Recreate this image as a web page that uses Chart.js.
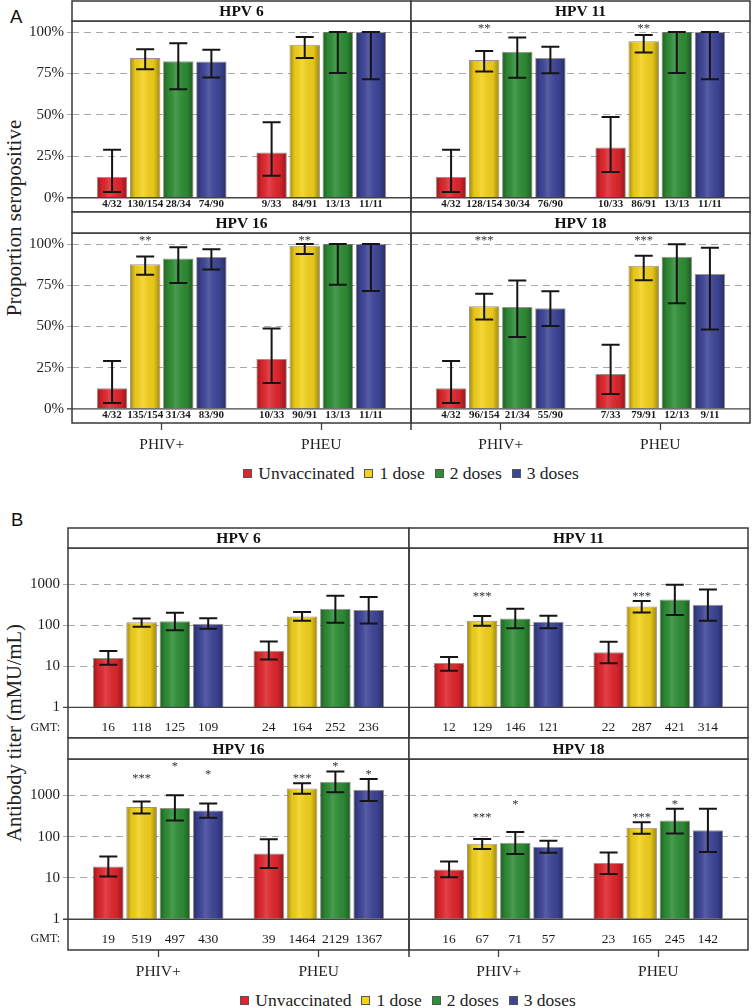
<!DOCTYPE html>
<html>
<head>
<meta charset="utf-8">
<script src="https://cdn.jsdelivr.net/npm/chart.js@4.4.1/dist/chart.umd.min.js"></script>
<style>
  body { margin: 0; background: #fff; }
  #fig { position: relative; width: 752px; height: 1008px; overflow: hidden; font-family: "Liberation Serif", serif; color: #222; }
  #fig canvas { position: absolute; }
  .tag { position: absolute; font: 18.5px/1 "Liberation Sans", Arial, sans-serif; color: #111; }
  .ytitle { position: absolute; width: 300px; height: 24px; line-height: 24px; text-align: center; font-size: 21px; transform: rotate(-90deg); }
  .legend { position: absolute; width: 500px; height: 20px; display: flex; justify-content: center; align-items: center; font-size: 17.5px; }
  .legend .item { display: inline-flex; align-items: center; margin: 0 5px; }
  .legend .sq { display: inline-block; width: 7px; height: 7px; border: 1px solid #555; margin-right: 6px; }
</style>
</head>
<body>
<div id="fig">
  <div class="tag" style="left:10px;top:8px">A</div>
  <div class="tag" style="left:11px;top:511px">B</div>
  <div class="ytitle" style="left:-136px;top:206px">Proportion seropositive</div>
  <div class="ytitle" style="left:-136px;top:721px;font-size:20.5px">Antibody titer (mMU/mL)</div>
  <div class="legend" id="legA" style="left:161px;top:463px"></div>
  <div class="legend" id="legB" style="left:158px;top:990px"></div>
</div>
<script>
const groups = ['PHIV+', 'PHEU'];
const doses = ['Unvaccinated', '1 dose', '2 doses', '3 doses'];
const doseColors = ['#e0262d', '#f4d21c', '#2e8e35', '#3e4598'];

// A: percent seropositive, one row per dose, values for [PHIV+, PHEU]
const a6Pct = [[12.5, 27.3], [84.4, 92.3], [82.4, 100], [82.2, 100]];
const a6Lo = [[3.5, 13.3], [77.6, 84.4], [65.5, 75.3], [72.6, 71.5]];
const a6Hi = [[29, 45.6], [89.7, 97], [93.3, 100], [89.3, 100]];
const a6Frac = [['4/32', '9/33'], ['130/154', '84/91'], ['28/34', '13/13'], ['74/90', '11/11']];
const a6Stars = [['', ''], ['', ''], ['', ''], ['', '']];

const a11Pct = [[12.5, 30.3], [83.1, 94.5], [88.2, 100], [84.4, 100]];
const a11Lo = [[3.5, 15.6], [76.2, 87.7], [72.5, 75.3], [75.2, 71.5]];
const a11Hi = [[29, 48.7], [88.6, 98.2], [96.7, 100], [91.2, 100]];
const a11Frac = [['4/32', '10/33'], ['128/154', '86/91'], ['30/34', '13/13'], ['76/90', '11/11']];
const a11Stars = [['', ''], ['**', '**'], ['', ''], ['', '']];

const a16Pct = [[12.5, 30.3], [87.7, 98.9], [91.2, 100], [92.2, 100]];
const a16Lo = [[3.5, 15.6], [81.4, 94.0], [76.3, 75.3], [84.6, 71.5]];
const a16Hi = [[29, 48.7], [92.4, 100], [98.1, 100], [96.8, 100]];
const a16Frac = [['4/32', '10/33'], ['135/154', '90/91'], ['31/34', '13/13'], ['83/90', '11/11']];
const a16Stars = [['', ''], ['**', '**'], ['', ''], ['', '']];

const a18Pct = [[12.5, 21.2], [62.3, 86.8], [61.8, 92.3], [61.1, 81.8]];
const a18Lo = [[3.5, 9.0], [54.2, 78.1], [43.6, 64.0], [50.2, 48.2]];
const a18Hi = [[29, 38.9], [69.8, 92.9], [77.8, 99.8], [71.3, 97.7]];
const a18Frac = [['4/32', '7/33'], ['96/154', '79/91'], ['21/34', '12/13'], ['55/90', '9/11']];
const a18Stars = [['', ''], ['***', '***'], ['', ''], ['', '']];

// B: geometric mean titers with 95% CI
const b6Gmt = [[16, 24], [118, 164], [125, 252], [109, 236]];
const b6Lo = [[10.9, 14.7], [92, 128], [76, 115], [82, 111]];
const b6Hi = [[23.5, 40], [146, 209], [201, 521], [149, 484]];
const b6Stars = [['', ''], ['', ''], ['', ''], ['', '']];

const b11Gmt = [[12, 22], [129, 287], [146, 421], [121, 314]];
const b11Lo = [[7.8, 11.8], [97, 205], [84, 177], [84, 128]];
const b11Hi = [[16.8, 39.6], [167, 387], [252, 966], [170, 743]];
const b11Stars = [['', ''], ['***', '***'], ['', ''], ['', '']];

const b16Gmt = [[19, 39], [519, 1464], [497, 2129], [430, 1367]];
const b16Lo = [[10.8, 17.5], [364, 1099], [245, 1183], [285, 727]];
const b16Hi = [[33, 86], [714, 1963], [1000, 3776], [638, 2500]];
const b16Stars = [['', ''], ['***', '***'], ['*', '*'], ['*', '*']];

const b18Gmt = [[16, 23], [67, 165], [71, 245], [57, 142]];
const b18Lo = [[10.4, 12.5], [50, 118], [37.8, 120], [40.7, 42.3]];
const b18Hi = [[25, 41.5], [88, 224], [130, 473], [80, 473]];
const b18Stars = [['', ''], ['***', '***'], ['*', '*'], ['', '']];

const pctTicks = [0, 25, 50, 75, 100];
const gmtTicks = [1, 10, 100, 1000];

Chart.defaults.font.family = '"Liberation Serif", serif';
Chart.defaults.color = '#222';
const fig = document.getElementById('fig');

function makeDeco(p) {
  const isLog = p.kind === 'gmt';
  const base = isLog ? 1 : 0;
  return {
    id: 'deco',
    afterDatasetsDraw(chart) {
      const { ctx, chartArea: a } = chart;
      const ys = chart.scales.y;
      ctx.save();
      // shading on the bars
      chart.data.datasets.forEach((ds, k) => {
        chart.getDatasetMeta(k).data.forEach(el => {
          const b = el.getProps(['x', 'y', 'base', 'width'], true);
          const l = b.x - b.width / 2 + 1, r = b.x + b.width / 2 - 1;
          const g = ctx.createLinearGradient(l, 0, r, 0);
          g.addColorStop(0, 'rgba(0,0,0,0.30)');
          g.addColorStop(0.15, 'rgba(0,0,0,0.05)');
          g.addColorStop(0.4, 'rgba(255,255,255,0.13)');
          g.addColorStop(0.8, 'rgba(0,0,0,0.06)');
          g.addColorStop(1, 'rgba(0,0,0,0.32)');
          ctx.fillStyle = g;
          ctx.fillRect(l, b.y + 1, r - l, b.base - b.y - 1);
        });
      });
      // base line
      const y0 = ys.getPixelForValue(base);
      ctx.strokeStyle = '#444';
      ctx.lineWidth = 1.3;
      ctx.beginPath();
      ctx.moveTo(a.left - (p.showY ? 5 : 0), y0);
      ctx.lineTo(a.right, y0);
      ctx.stroke();
      // error bars
      ctx.strokeStyle = '#151515';
      ctx.lineWidth = 2;
      chart.data.datasets.forEach((ds, k) => {
        chart.getDatasetMeta(k).data.forEach((el, i) => {
          const x = el.x;
          const yt = ys.getPixelForValue(p.hi[k][i]);
          const yb = ys.getPixelForValue(p.lo[k][i]);
          ctx.beginPath();
          ctx.moveTo(x, yt); ctx.lineTo(x, yb);
          ctx.moveTo(x - 9, yt); ctx.lineTo(x + 9, yt);
          ctx.moveTo(x - 9, yb); ctx.lineTo(x + 9, yb);
          ctx.stroke();
        });
      });
      // significance stars
      ctx.fillStyle = '#333';
      ctx.font = '12.5px "Liberation Serif"';
      ctx.textAlign = 'center';
      ctx.textBaseline = 'alphabetic';
      chart.data.datasets.forEach((ds, k) => {
        const top = isLog ? ys.getPixelForValue(Math.max(...p.hi[k])) - 7 : ys.getPixelForValue(100) - 5.5;
        chart.getDatasetMeta(k).data.forEach((el, i) => {
          if (p.stars[k][i]) ctx.fillText(p.stars[k][i], el.x, top + 5.8);
        });
      });
      // label row under the base line
      ctx.fillStyle = '#1a1a1a';
      ctx.textBaseline = 'middle';
      ctx.font = isLog ? '13.5px "Liberation Serif"' : 'bold 11px "Liberation Serif"';
      const ly = isLog ? y0 + 20 : y0 + 6.5;
      chart.data.datasets.forEach((ds, k) => {
        chart.getDatasetMeta(k).data.forEach((el, i) => {
          ctx.fillText(isLog ? String(p.vals[k][i]) : p.labels[k][i], el.x, ly);
        });
      });
      if (isLog && p.showY) {
        ctx.font = '12px "Liberation Serif"';
        ctx.textAlign = 'right';
        ctx.fillText('GMT:', a.left - 8, ly);
      }
      ctx.restore();
    },
    afterDraw(chart) {
      const { ctx, chartArea: a } = chart;
      const sh = p.pad[2] - 1;
      ctx.save();
      ctx.strokeStyle = '#383838';
      ctx.lineWidth = 1.5;
      ctx.strokeRect(a.left, a.top, a.right - a.left, a.bottom - a.top);
      ctx.fillStyle = '#fff';
      ctx.fillRect(a.left, a.top - sh, a.right - a.left, sh);
      ctx.strokeRect(a.left, a.top - sh, a.right - a.left, sh);
      ctx.fillStyle = '#111';
      ctx.font = 'bold 15.5px "Liberation Serif"';
      ctx.textAlign = 'center';
      ctx.textBaseline = 'middle';
      ctx.fillText(p.title, (a.left + a.right) / 2, a.top - sh / 2 + 1);
      if (p.xAxis && !p.showY) {
        ctx.beginPath();
        ctx.moveTo(a.left, a.bottom);
        ctx.lineTo(a.left, a.bottom + 7);
        ctx.stroke();
      }
      ctx.restore();
    }
  };
}

function makePanel(p) {
  const cv = document.createElement('canvas');
  cv.width = p.w; cv.height = p.h;
  cv.style.left = p.left + 'px'; cv.style.top = p.top + 'px';
  cv.style.width = p.w + 'px'; cv.style.height = p.h + 'px';
  fig.appendChild(cv);
  const isLog = p.kind === 'gmt';
  const base = isLog ? 1 : 0;
  new Chart(cv, {
    type: 'bar',
    data: {
      datasets: doses.map((d, k) => ({
        label: d,
        data: groups.map((g, i) => ({ x: i, y: p.vals[k][i] })),
        backgroundColor: doseColors[k],
        borderColor: 'rgba(70,60,50,0.55)',
        borderWidth: 1,
        base: base,
        categoryPercentage: 0.83,
        barPercentage: 0.92
      }))
    },
    options: {
      responsive: false,
      animation: false,
      events: [],
      layout: { padding: { left: p.pad[0], right: p.pad[1], top: p.pad[2], bottom: p.pad[3] } },
      plugins: { legend: { display: false }, tooltip: { enabled: false } },
      scales: {
        x: {
          type: 'linear', min: -0.5625, max: 1.5625, offset: false, display: p.xAxis,
          grid: { offset: false, drawOnChartArea: false, tickLength: 7, tickColor: '#444', tickWidth: 1.3 },
          border: { display: false },
          afterBuildTicks: s => { s.ticks = [{ value: 0 }, { value: 1 }]; },
          afterFit: s => { s.height = p.xAxis ? 32 : 0; s.paddingLeft = 0; s.paddingRight = 0; },
          ticks: { autoSkip: false, maxRotation: 0, padding: 6, color: '#222', font: { size: 15.5 }, callback: (v, i) => groups[i] }
        },
        y: {
          type: isLog ? 'logarithmic' : 'linear',
          min: isLog ? 0.18 : -8.6,
          max: isLog ? 7590 : 106.7,
          afterBuildTicks: s => { s.ticks = (isLog ? gmtTicks : pctTicks).map(v => ({ value: v })); },
          afterFit: s => { s.width = p.yWidth; s.paddingTop = 0; s.paddingBottom = 0; },
          border: { display: false, dash: [7, 5] },
          grid: {
            color: c => (c.tick && c.tick.value === base) ? 'rgba(0,0,0,0)' : '#a9a9a9',
            lineWidth: 1, drawTicks: p.showY, tickLength: 5, tickColor: '#aaa'
          },
          ticks: { display: p.showY, padding: 3, color: '#222', font: { size: 15 }, callback: v => isLog ? String(v) : v + '%' }
        }
      }
    },
    plugins: [makeDeco(p)]
  });
}

// layout of the eight panels
const L = { w: 414, left: 0, pad: [0, 3], yWidth: 72, showY: true };
const R = { w: 343, left: 409, pad: [2, 2], yWidth: 0, showY: false };
const LB = { w: 412, left: 0, pad: [0, 3], yWidth: 68, showY: true };
const RB = { w: 345, left: 407, pad: [2, 4], yWidth: 0, showY: false };

function panel(side, top, h, padTB, xAxis, kind, title, vals, lo, hi, labels, stars) {
  makePanel({
    w: side.w, left: side.left, top, h, pad: [side.pad[0], side.pad[1], padTB[0], padTB[1]],
    yWidth: side.yWidth, showY: side.showY, xAxis, kind, title, vals, lo, hi, labels, stars
  });
}

panel(L, 0, 213, [21, 1], false, 'pct', 'HPV 6', a6Pct, a6Lo, a6Hi, a6Frac, a6Stars);
panel(R, 0, 213, [21, 1], false, 'pct', 'HPV 11', a11Pct, a11Lo, a11Hi, a11Frac, a11Stars);
panel(L, 211, 244, [22, 0], true, 'pct', 'HPV 16', a16Pct, a16Lo, a16Hi, a16Frac, a16Stars);
panel(R, 211, 244, [22, 0], true, 'pct', 'HPV 18', a18Pct, a18Lo, a18Hi, a18Frac, a18Stars);

panel(LB, 527, 212, [21, 1], false, 'gmt', 'HPV 6', b6Gmt, b6Lo, b6Hi, null, b6Stars);
panel(RB, 527, 212, [21, 1], false, 'gmt', 'HPV 11', b11Gmt, b11Lo, b11Hi, null, b11Stars);
panel(LB, 737, 245, [22, 0], true, 'gmt', 'HPV 16', b16Gmt, b16Lo, b16Hi, null, b16Stars);
panel(RB, 737, 245, [22, 0], true, 'gmt', 'HPV 18', b18Gmt, b18Lo, b18Hi, null, b18Stars);

// legends
['legA', 'legB'].forEach(id => {
  const el = document.getElementById(id);
  doses.forEach((d, k) => {
    const item = document.createElement('span');
    item.className = 'item';
    const sq = document.createElement('span');
    sq.className = 'sq';
    sq.style.background = doseColors[k];
    item.appendChild(sq);
    item.appendChild(document.createTextNode(d));
    el.appendChild(item);
  });
});
</script>
</body>
</html>
